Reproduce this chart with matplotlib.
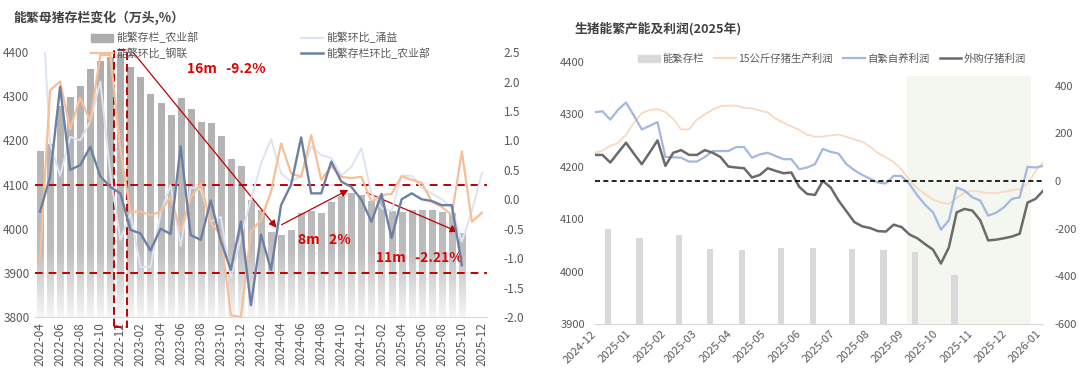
import numpy as np
import pandas as pd
import matplotlib
matplotlib.use('Agg')
import matplotlib.pyplot as plt
import matplotlib.dates as mdates
from matplotlib.colors import LinearSegmentedColormap
from matplotlib.patches import Patch, Rectangle
from matplotlib.lines import Line2D

plt.rcParams['font.family'] = ['Noto Sans CJK SC', 'DejaVu Sans']
plt.rcParams['axes.unicode_minus'] = False

# ---------------- left chart data (万头, %) ----------------
months = [str(p) for p in pd.period_range('2022-04', '2025-12', freq='M')]
nan = np.nan
sow_moa = [4177, 4192, 4277, 4298, 4324, 4362, 4379, 4388, 4395, 4367,
           4343, 4305, 4284, 4257, 4296, 4271, 4241, 4239, 4210, 4158,
           4142, 4065, 4042, 3993, 3986, 3997, 4036, 4040, 4036, 4061,
           4073, 4081, 4077, 4062, 4066, 4039, 4038, 4042, 4043, 4042,
           4038, 4035, 3990, nan, nan]
mom_gl = [-1.00, 1.85, 2.00, 1.19, 1.73, 1.32, 2.45, 2.45, 0.84, -0.21,
          -0.21, -0.27, -0.21, 0.04, -0.55, 0.02, 0.27, -0.41, -0.60, -1.97,
          -2.00, -0.55, -0.35, 0.13, 0.95, 0.44, 0.38, 1.09, 0.33, 0.56,
          0.38, 0.36, 0.38, -0.04, 0.07, 0.09, 0.39, 0.33, 0.28, -0.04,
          -0.13, -0.27, 0.81, -0.38, -0.23]
mom_yy = [4.00, 0.95, 0.40, 1.06, 1.00, 1.32, 2.00, 0.44, -0.69, -0.24,
          -1.15, -1.15, -0.24, 0.24, -0.80, 0.20, 0.17, -0.38, -0.30, -1.34,
          -0.64, 0.00, 0.60, 1.02, 0.44, 0.30, 0.40, 0.90, 0.75, 0.70,
          0.40, 0.55, 0.87, 0.10, -0.15, -0.20, 0.40, 0.40, 0.20, 0.10,
          0.00, -0.15, -0.72, -0.20, 0.45]
mom_moa = [-0.21, 0.38, 1.91, 0.50, 0.58, 0.89, 0.39, 0.21, 0.10, -0.52,
           -0.58, -0.87, -0.50, -0.59, 0.90, -0.61, -0.69, -0.02, -0.71, -1.20,
           -0.38, -1.80, -0.60, -1.20, -0.10, 0.25, 1.05, 0.10, 0.10, 0.64,
           0.30, 0.21, -0.01, -0.38, 0.09, -0.66, 0.00, 0.10, 0.00, -0.03,
           -0.10, -0.10, -1.12, nan, nan]
ref_levels = [4100, 3900]
# trend arrows: (start month pos, start value, end month pos, end value)
trend_arrows = [(9.25, 4400, 23.55, 4002),
                (24.05, 4009, 30.7, 4088),
                (32.5, 4082, 41.6, 3993)]
trend_notes = [('16m   -9.2%', 18.5, 4362),
               ('8m   2%', 28.3, 3975),
               ('11m   -2.21%', 37.8, 3934)]

# ---------------- right chart data (2025) ----------------
week_dates = pd.date_range('2024-12-01', periods=58, freq='7D')
profit_piglet15 = [119, 128, 148, 160, 195, 245, 286, 298, 302, 290,
                   260, 217, 217, 258, 280, 300, 314, 317, 317, 307,
                   305, 296, 288, 262, 245, 230, 215, 195, 186, 187,
                   192, 195, 186, 175, 165, 145, 118, 100, 80, 48,
                   5, -30, -55, -78, -90, -96, -72, -48, -40, -45,
                   -50, -51, -45, -38, -34, -10, 40, 80]
profit_self = [289, 293, 258, 300, 330, 275, 217, 232, 248, 101,
               100, 98, 82, 82, 101, 126, 126, 126, 143, 143,
               98, 112, 119, 105, 92, 92, 50, 57, 71, 135,
               123, 115, 71, 46, 26, 10, -6, -10, 22, 21,
               -12, -60, -100, -131, -204, -165, -27, -40, -68, -82,
               -145, -133, -110, -75, -68, 60, 57, 64]
profit_buy = [110, 110, 78, 120, 161, 115, 71, 120, 171, 64,
              119, 130, 110, 110, 130, 119, 101, 61, 57, 54,
              15, 26, 54, 43, 33, 36, -24, -54, -58, 1,
              -27, -82, -127, -172, -190, -197, -210, -212, -183, -193,
              -224, -240, -265, -288, -346, -279, -131, -117, -124, -165,
              -249, -246, -240, -233, -221, -90, -75, -40]
stock_dates = pd.to_datetime(['2024-12-13', '2025-01-10', '2025-02-14', '2025-03-14',
                              '2025-04-11', '2025-05-16', '2025-06-13', '2025-07-18',
                              '2025-08-15', '2025-09-12', '2025-10-17'])
sow_stock = [4081, 4065, 4069, 4043, 4041, 4045, 4046, 4044, 4041, 4038, 3993]
shade_span = ('2025-09-05', '2025-12-24')

TXT = '#595959'
RED = '#c00000'

fig = plt.figure(figsize=(10.8, 3.79), dpi=100)

# ===================== left chart =====================
ax = fig.add_axes([0.0324, 0.1636, 0.4185, 0.699])
x = np.arange(len(months))
bars = ax.bar(x, sow_moa, width=0.6, color='none', edgecolor='none')
cmap = LinearSegmentedColormap.from_list(
    'fade', [(0, '#f5f5f5'), (0.25, '#bdbdbd'), (1, '#adadad')])
grad = np.linspace(0, 1, 200).reshape(-1, 1)
for b in bars:
    if np.isnan(b.get_height()):
        continue
    im = ax.imshow(grad, extent=[b.get_x(), b.get_x() + b.get_width(), 3800, 4400],
                   origin='lower', aspect='auto', cmap=cmap, zorder=2)
    im.set_clip_path(b)
ax.set_xlim(-0.5, len(months) - 0.5)
ax.set_ylim(3800, 4400)

for lvl in ref_levels:
    ax.axhline(lvl, color=RED, ls=(0, (4, 3)), lw=1.4, zorder=3)

peak = months.index('2022-12')
ax.add_patch(Rectangle((peak - 0.65, 3777), 1.3, 628, fill=False, ec=RED,
                       ls=(0, (4, 2)), lw=1.4, clip_on=False, zorder=4))
for x0, y0, x1, y1 in trend_arrows:
    ax.annotate('', xy=(x1, y1), xytext=(x0, y0),
                arrowprops=dict(arrowstyle='-|>', color=RED, lw=0.9,
                                mutation_scale=11, shrinkA=0, shrinkB=0), zorder=5)
for txt, tx, ty in trend_notes:
    ax.text(tx, ty, txt, color='#e00000', fontsize=10, fontweight='bold',
            ha='center', va='center', zorder=6)

ax.set_xticks(x[::2])
ax.set_xticklabels(months[::2], rotation=90, fontsize=8.5, color='#404040')
ax.set_yticks(range(3800, 4401, 100))
ax.tick_params(axis='both', length=0, labelsize=8.5, labelcolor=TXT)
ax.tick_params(axis='y', pad=4)
for s in ['top', 'left', 'right']:
    ax.spines[s].set_visible(False)
ax.spines['bottom'].set_color('#d9d9d9')

ax2 = ax.twinx()
ax2.plot(x, mom_yy, color='#dbe4f3', lw=1.4, zorder=3)
ax2.plot(x, mom_gl, color='#f6bf97', lw=1.6, zorder=4)
ax2.plot(x, mom_moa, color='#6d80a3', lw=1.7, zorder=5)
ax2.set_ylim(-2.0, 2.5)
ax2.set_yticks(np.arange(-2.0, 2.51, 0.5))
ax2.set_yticklabels([f'{v:.1f}' for v in np.arange(-2.0, 2.51, 0.5)])
ax2.tick_params(axis='y', length=0, labelsize=8.5, labelcolor=TXT, pad=12)
for s in ax2.spines.values():
    s.set_visible(False)

left_handles = [Patch(color='#adadad'),
                Line2D([], [], color='#f6bf97', lw=1.6),
                Line2D([], [], color='#dbe4f3', lw=1.6),
                Line2D([], [], color='#6d80a3', lw=1.8)]
left_labels = ['能繁存栏_农业部', '能繁环比_钢联', '能繁环比_涌益', '能繁存栏环比_农业部']
ax2.legend(left_handles, left_labels, ncol=2, loc='upper left',
           bbox_to_anchor=(0.115, 1.092), frameon=False, fontsize=7.8,
           labelcolor=TXT, columnspacing=9.5, handlelength=2.0,
           handletextpad=0.3, labelspacing=0.35, borderaxespad=0)

fig.text(0.012, 0.953, '能繁母猪存栏变化（万头,%）', fontsize=9.3,
         fontweight='bold', color='#404040', va='center')

# ===================== right chart =====================
axr = fig.add_axes([0.5505, 0.1451, 0.4155, 0.6913])
axr.axvspan(pd.Timestamp(shade_span[0]), pd.Timestamp(shade_span[1]),
            ymin=0, ymax=0.947, color='#f3f7ef', lw=0, zorder=0)
axr.bar(stock_dates, sow_stock, width=5.5, color='#d9d9d9', zorder=2)
axr.set_ylim(3900, 4400)
axr.set_yticks(range(3900, 4401, 100))
axr.tick_params(axis='both', length=0, labelsize=8, labelcolor=TXT)
axr.tick_params(axis='y', pad=7)
for s in ['top', 'left', 'right']:
    axr.spines[s].set_visible(False)
axr.spines['bottom'].set_color('#d9d9d9')

axr2 = axr.twinx()
axr2.plot(week_dates, profit_piglet15, color='#fad8c0', lw=1.3, zorder=3)
axr2.plot(week_dates, profit_self, color='#a3b7e1', lw=1.6, zorder=4)
axr2.plot(week_dates, profit_buy, color='#6a6a6a', lw=1.8, zorder=5)
axr2.axhline(0, color='black', ls=(0, (3, 2)), lw=1.2, zorder=6)
axr2.set_ylim(-600, 500)
axr2.set_yticks(range(-600, 401, 200))
axr2.tick_params(axis='y', length=0, labelsize=8, labelcolor=TXT, pad=8)
for s in axr2.spines.values():
    s.set_visible(False)

axr.set_xlim(week_dates[0], week_dates[-1])
axr.xaxis.set_major_locator(mdates.MonthLocator())
axr.xaxis.set_major_formatter(mdates.DateFormatter('%Y-%m'))
plt.setp(axr.get_xticklabels(), rotation=45, ha='right', va='center',
         rotation_mode='anchor')
axr.tick_params(axis='x', pad=6)

right_handles = [Patch(color='#d9d9d9'),
                 Line2D([], [], color='#fad8c0', lw=1.4),
                 Line2D([], [], color='#a3b7e1', lw=1.6),
                 Line2D([], [], color='#6a6a6a', lw=1.8)]
right_labels = ['能繁存栏', '15公斤仔猪生产利润', '自繁自养利润', '外购仔猪利润']
axr2.legend(right_handles, right_labels, ncol=4, loc='center',
            bbox_to_anchor=(0.529, 1.012), frameon=False, fontsize=7.5,
            labelcolor=TXT, columnspacing=1.0, handlelength=2.1,
            handletextpad=0.2, borderaxespad=0)

fig.text(0.532, 0.925, '生猪能繁产能及利润(2025年)', fontsize=9.2,
         fontweight='bold', color='#404040', va='center')

fig.savefig('out.png', dpi=100)
